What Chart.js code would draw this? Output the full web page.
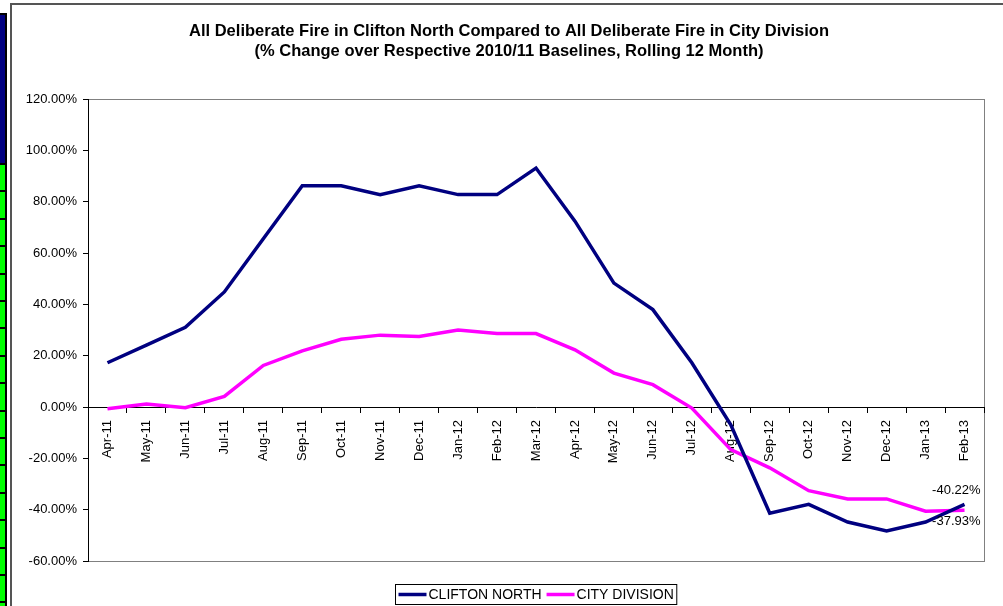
<!DOCTYPE html>
<html>
<head>
<meta charset="utf-8">
<script src="https://cdn.jsdelivr.net/npm/chart.js@4.4.0/dist/chart.umd.min.js"></script>
<style>
  html, body { margin: 0; padding: 0; background: #fff; }
  body { width: 1003px; height: 606px; position: relative; overflow: hidden; }
  #strip { position: absolute; left: 0; top: 13px; width: 7px; height: 593px; background: #000; }
  #strip .blue { position: absolute; left: 0; top: 2px; width: 5px; height: 148px; background: #000080; }
  #strip .green { position: absolute; left: 0; top: 152px; width: 5px; bottom: 0;
    background: repeating-linear-gradient(to bottom, #00ff00 0, #00ff00 25.4px, #000 25.4px, #000 27.4px); }
  #frame { position: absolute; left: 10px; top: 3px; right: -10px; bottom: -10px;
    border-left: 2px solid #555; border-top: 2px solid #555; }
  canvas { position: absolute; left: 0; top: 0; }
</style>
</head>
<body>
<div id="strip"><div class="blue"></div><div class="green"></div></div>
<div id="frame"></div>
<canvas id="chart" width="1003" height="606"></canvas>
<script>
const months = ['Apr-11', 'May-11', 'Jun-11', 'Jul-11', 'Aug-11', 'Sep-11', 'Oct-11', 'Nov-11',
  'Dec-11', 'Jan-12', 'Feb-12', 'Mar-12', 'Apr-12', 'May-12', 'Jun-12', 'Jul-12', 'Aug-12',
  'Sep-12', 'Oct-12', 'Nov-12', 'Dec-12', 'Jan-13', 'Feb-13'];

// % change over 2010/11 baseline
const cliftonNorth = [17.24, 24.14, 31.03, 44.83, 65.52, 86.21, 86.21, 82.76, 86.21, 82.76, 82.76,
  93.10, 72.41, 48.28, 37.93, 17.24, -6.90, -41.38, -37.93, -44.83, -48.28, -44.83, -37.93];
const cityDivision = [-0.7, 1.2, -0.3, 4.1, 16.2, 21.9, 26.4, 28.0, 27.5, 30.0, 28.6,
  28.6, 22.3, 13.2, 8.7, -0.4, -16.6, -23.7, -32.6, -35.8, -35.8, -40.6, -40.22];

const yMin = -60, yMax = 120, yStep = 20;

const titleLines = ['All Deliberate Fire in Clifton North Compared to All Deliberate Fire in City Division',
  '(% Change over Respective 2010/11 Baselines, Rolling 12 Month)'];

const FONT = '"Liberation Sans", Arial, sans-serif';

// grey border round the plot area
const plotBorder = {
  id: 'plotBorder',
  beforeDraw(chart) {
    const { ctx, chartArea: a } = chart;
    ctx.save();
    ctx.strokeStyle = '#808080';
    ctx.lineWidth = 1;
    ctx.strokeRect(a.left + 0.5, a.top + 0.5, a.right - a.left, a.bottom - a.top);
    ctx.restore();
  }
};

// two-line title, centred on the chart frame (which starts at x=10)
const frameTitle = {
  id: 'frameTitle',
  afterDraw(chart) {
    const ctx = chart.ctx;
    ctx.save();
    ctx.font = 'bold 16.5px ' + FONT;
    ctx.fillStyle = '#000';
    ctx.textAlign = 'center';
    ctx.textBaseline = 'middle';
    const cx = chart.width / 2 + 7.5;
    titleLines.forEach((t, i) => ctx.fillText(t, cx, 31 + i * 20));
    ctx.restore();
  }
};

// value labels on the last point of each line
const endLabels = {
  id: 'endLabels',
  afterDatasetsDraw(chart) {
    const ctx = chart.ctx;
    ctx.save();
    ctx.font = '13px ' + FONT;
    ctx.fillStyle = '#000';
    ctx.textAlign = 'right';
    ctx.textBaseline = 'middle';
    chart.data.datasets.forEach((ds, i) => {
      const meta = chart.getDatasetMeta(i);
      const last = meta.data[meta.data.length - 1];
      const v = ds.data[ds.data.length - 1];
      ctx.fillText(v.toFixed(2) + '%', last.x + 16, last.y + ds.labelDy);
    });
    ctx.restore();
  }
};

// boxed legend under the chart
const boxLegend = {
  id: 'boxLegend',
  afterDraw(chart) {
    const { ctx, chartArea: a } = chart;
    ctx.save();
    ctx.font = '14px ' + FONT;
    const sw = 28, gap = 2, sep = 5, padL = 3, padR = 3;
    const items = chart.data.datasets.map(ds => ({ ds, w: ctx.measureText(ds.label).width }));
    let total = padL + padR;
    items.forEach((it, i) => { total += sw + gap + it.w + (i < items.length - 1 ? sep : 0); });
    const cx = (a.left + a.right) / 2;
    const x0 = Math.round(cx - total / 2) + 0.5;
    const top = 584.5, h = 20, mid = top + h / 2;
    ctx.strokeStyle = '#000';
    ctx.lineWidth = 1;
    ctx.strokeRect(x0, top, total, h);
    let x = x0 + padL;
    ctx.textBaseline = 'middle';
    ctx.fillStyle = '#000';
    items.forEach(it => {
      ctx.strokeStyle = it.ds.borderColor;
      ctx.lineWidth = 3.5;
      ctx.beginPath();
      ctx.moveTo(x, mid);
      ctx.lineTo(x + sw, mid);
      ctx.stroke();
      x += sw + gap;
      ctx.fillText(it.ds.label, x, mid + 1);
      x += it.w + sep;
    });
    ctx.restore();
  }
};

new Chart(document.getElementById('chart'), {
  type: 'line',
  data: {
    labels: months,
    datasets: [
      { label: 'CLIFTON NORTH', data: cliftonNorth, borderColor: '#000080', borderWidth: 3.5,
        pointRadius: 0, tension: 0, labelDy: 17 },
      { label: 'CITY DIVISION', data: cityDivision, borderColor: '#ff00ff', borderWidth: 3.5,
        pointRadius: 0, tension: 0, labelDy: -20 }
    ]
  },
  options: {
    responsive: false,
    animation: false,
    layout: { padding: { left: 10, right: 19, bottom: 45, top: 99 } },
    plugins: {
      legend: { display: false },
      tooltip: { enabled: false },
      title: { display: false }
    },
    scales: {
      x: {
        position: { y: 0 },
        offset: true,
        grid: { offset: true, drawOnChartArea: false, tickLength: 5, tickColor: '#000' },
        border: { color: '#000', width: 1 },
        ticks: { color: '#000', font: { family: FONT, size: 13 }, minRotation: 90, maxRotation: 90,
          padding: 8, autoSkip: false }
      },
      y: {
        min: yMin,
        max: yMax,
        ticks: { stepSize: yStep, color: '#000', font: { family: FONT, size: 13 }, padding: 6,
          callback: v => v.toFixed(2) + '%' },
        grid: { drawOnChartArea: false, tickLength: 5, tickColor: '#000' },
        border: { color: '#000', width: 1 },
        afterFit: s => { s.width = 78; }
      }
    }
  },
  plugins: [plotBorder, frameTitle, endLabels, boxLegend]
});
</script>
</body>
</html>
